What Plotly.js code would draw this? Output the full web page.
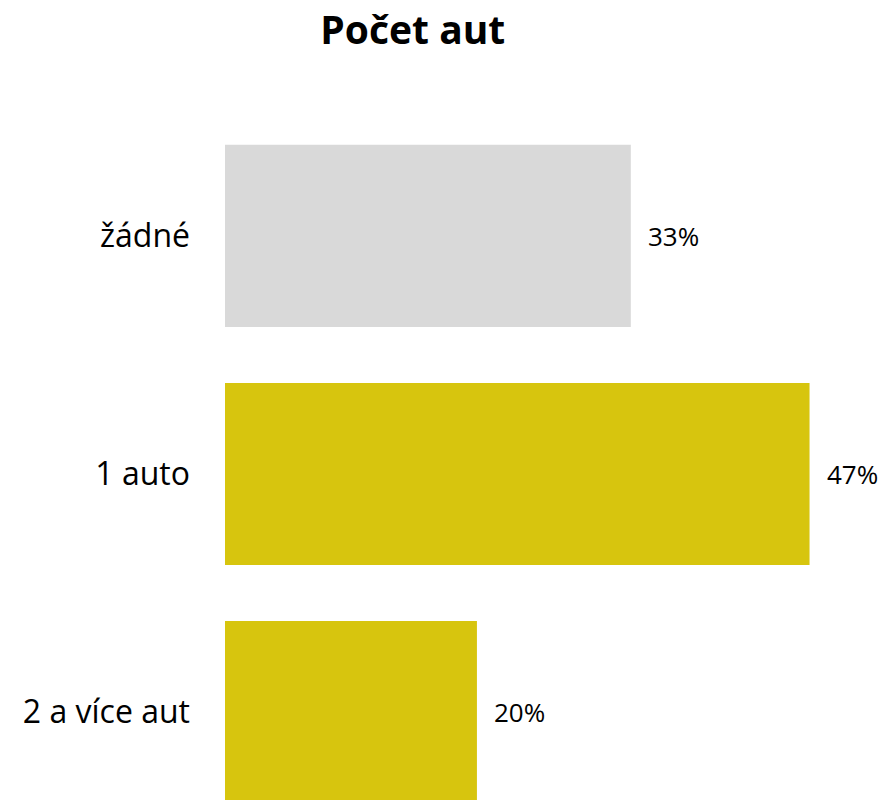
<!DOCTYPE html>
<html><head><meta charset="utf-8">
<script src="https://cdn.plot.ly/plotly-3.0.1.min.js"></script>
<style>html,body{margin:0;padding:0;background:#fff}</style>
</head><body>
<div id="chart" style="width:884px;height:800px"></div>
<script>
var categories = ["žádné", "1 auto", "2 a více aut"];
var values = [32.7, 47.1, 20.3];
var labels = ["33%", "47%", "20%"];
var colors = ["#D9D9D9", "#D7C50E", "#D7C50E"];

var font = "'Open Sans', 'Noto Sans', sans-serif";
var annotations = categories.map(function (c, i) {
  return {x: values[i], y: c, xref: "x", yref: "y", text: labels[i], showarrow: false,
          xanchor: "left", yanchor: "middle", xshift: 15,
          font: {size: 26, family: font, color: "#000"}};
});
Plotly.newPlot("chart", [{
  type: "bar", orientation: "h",
  y: categories, x: values,
  marker: {color: colors, line: {width: 0}},
  width: 0.765, hoverinfo: "none"
}], {
  width: 884, height: 800,
  margin: {l: 225, r: 0, t: 100, b: 0},
  paper_bgcolor: "#fff", plot_bgcolor: "#fff",
  title: {text: "<b>Počet aut</b>", font: {size: 39, family: font, color: "#000"}, x: 0.467, xref: "container", xanchor: "center", y: 0.962, yref: "container", yanchor: "middle"},
  xaxis: {range: [0, 53.1], visible: false, fixedrange: true},
  yaxis: {type: "category", range: [2.37, -0.571], showgrid: false, zeroline: false, showline: false, ticks: "", ticklabelstandoff: 34,
          tickfont: {size: 32, family: font, color: "#000"}},
  annotations: annotations,
  showlegend: false
}, {displayModeBar: false, staticPlot: true});
</script>
</body></html>
